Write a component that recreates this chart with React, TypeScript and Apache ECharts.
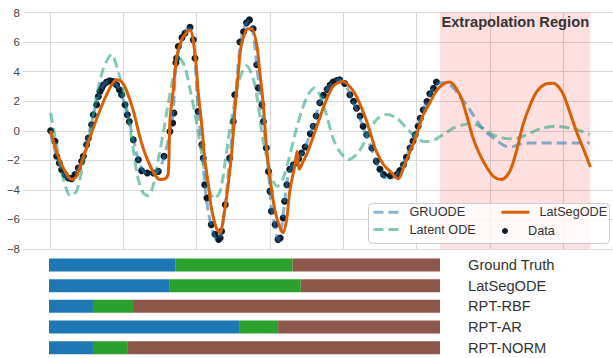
import React, { useEffect, useRef } from "react";
import * as echarts from "echarts";

const FONT = '"Liberation Sans", Arial, Helvetica, sans-serif';

// Observed data points (time, value)
const dataT = [
  0.009, 0.068, 0.091, 0.127, 0.159, 0.205, 0.25, 0.295, 0.341, 0.386, 0.432, 0.455, 0.5, 0.523, 0.568, 0.591,
  0.636, 0.659, 0.682, 0.705, 0.727, 0.773, 0.818, 0.864, 0.909, 0.946, 0.977, 1.023, 1.055, 1.082, 1.136, 1.205,
  1.25, 1.327, 1.409, 1.477, 1.555, 1.636, 1.673, 1.69,
  1.718, 1.727, 1.75, 1.8, 1.84, 1.91, 1.955, 1.977, 2.02, 2.07, 2.09, 2.11, 2.14, 2.2, 2.25, 2.3, 2.32, 2.34,
  2.39, 2.45, 2.5, 2.52, 2.59, 2.64, 2.68, 2.72, 2.77, 2.82, 2.84, 2.89, 2.91, 2.95, 2.98, 3.0, 3.02, 3.07, 3.11,
  3.14, 3.18, 3.2, 3.23, 3.27,
  3.32, 3.39, 3.43, 3.48, 3.55, 3.59, 3.63, 3.68, 3.73, 3.78, 3.82, 3.86, 3.91, 3.95, 4.02, 4.09, 4.14, 4.18,
  4.23, 4.27, 4.32, 4.39, 4.45, 4.5, 4.55, 4.64, 4.73, 4.77, 4.82, 4.86, 4.91, 4.95, 4.98, 5.02, 5.05, 5.09,
  5.14, 5.18, 5.23, 5.27,
];
const dataY = [
  0, -0.72, -1.73, -2.18, -2.64, -2.97, -3.2, -3.24, -2.97, -2.52, -2.07, -1.73, -0.95, -0.5, 0.4, 1.08,
  1.76, 2.32, 2.66, 2.88, 3.1, 3.29, 3.38, 3.33, 3.1, 2.77, 2.43, 1.76, 1.08, 0.63, -0.61, -1.96,
  -2.7, -2.86, -2.86, -2.75, -1.73, -0.05, 0.52, 1.2,
  4.6, 4.9, 5.7, 6.3, 6.6, 7.0, 6.15, 4.9, 1.3, -0.95, -1.85, -3.65, -4.55, -6.35, -7.0, -7.36, -7.25, -6.8,
  -5.0, -1.85, 0.63, 2.43, 6.0, 6.7, 7.3, 7.5, 6.9, 4.46, 2.9, 1.76, 0.63, -1.17, -2.75, -4.1, -5.45, -6.35, -7.36,
  -7.25, -5.9, -4.77, -3.65, -2.6,
  -2.3, -1.9, -1.5, -1.1, -0.2, 0.3, 1.0, 1.9, 2.4, 2.8, 3.1, 3.3, 3.4, 3.45, 3.2, 2.43, 2.0, 1.53,
  1.0, 0.3, -0.27, -1.17, -2.07, -2.6, -2.97, -3.05, -2.97, -2.7, -2.3, -1.8, -1.17, -0.7, -0.27, 0.3, 0.85, 1.4,
  1.98, 2.5, 2.88, 3.3,
];

// GRUODE prediction
const gruT = [
  0, 0.09, 0.18, 0.27, 0.36, 0.45, 0.55, 0.64, 0.73, 0.82, 0.91, 0.98, 1.05, 1.14, 1.22, 1.3, 1.4, 1.48, 1.56,
  1.64, 1.68, 1.72, 1.8, 1.88, 1.92, 1.97, 2.02, 2.07, 2.11, 2.16, 2.22, 2.28, 2.33, 2.39, 2.45, 2.5, 2.55, 2.6,
  2.66, 2.71, 2.76, 2.82, 2.88, 2.93, 2.98, 3.02, 3.07, 3.11, 3.15, 3.2, 3.25, 3.3, 3.4, 3.48, 3.55, 3.62, 3.68,
  3.78, 3.86, 3.95, 4.04, 4.12, 4.2, 4.28, 4.36, 4.45, 4.52, 4.58, 4.67, 4.75, 4.82, 4.9, 4.98, 5.06, 5.14, 5.23,
  5.32, 5.43, 5.52, 5.59, 5.68, 5.77, 5.86, 5.96, 6.05, 6.14, 6.23, 6.32, 6.41, 6.55, 7.36,
];
const gruY = [
  0, -1.7, -2.8, -3.25, -2.8, -1.8, 0.2, 2.0, 3.1, 3.4, 3.1, 2.4, 1.2, -0.6, -2.2, -2.85, -2.9, -2.7, -1.7,
  0, 1.2, 4.5, 6.2, 6.9, 6.9, 5.2, 1.3, -1.0, -3.6, -5.5, -6.8, -7.4, -7.0, -5.0, -1.9, 0.6, 3.5, 6.0,
  7.1, 7.4, 6.9, 4.4, 1.8, -0.3, -2.8, -5.3, -6.5, -7.4, -6.9, -4.8, -3.0, -2.4, -1.8, -1.1, -0.2, 0.9, 1.9,
  2.8, 3.3, 3.45, 3.0, 2.1, 1.2, 0.1, -0.9, -2.1, -2.9, -3.2, -3.2, -2.8, -2.2, -1.2, -0.2, 1.0, 2.0, 2.9,
  3.25, 3.2, 2.8, 2.3, 1.76, 1.08, 0.4, -0.15, -0.5, -0.83, -1.06, -1.06, -0.9, -0.83, -0.83,
];

// Latent ODE prediction
const latentT = [
  0.009, 0.09, 0.18, 0.28, 0.36, 0.45, 0.55, 0.64, 0.73, 0.84, 0.93, 1.0, 1.07, 1.14, 1.2, 1.27, 1.34, 1.41,
  1.48, 1.55, 1.61, 1.68, 1.77, 1.84, 1.91, 1.98, 2.05, 2.11, 2.18, 2.24, 2.32, 2.39, 2.45, 2.52, 2.59, 2.68,
  2.77, 2.84, 2.9, 2.97, 3.04, 3.1, 3.18, 3.25, 3.34, 3.43, 3.52, 3.61, 3.68, 3.77, 3.86, 3.95, 4.07, 4.18,
  4.27, 4.36, 4.45, 4.59, 4.73, 4.86, 4.98, 5.09, 5.18, 5.36, 5.5, 5.63, 5.75, 5.9, 6.04, 6.18, 6.31, 6.5,
  6.68, 6.89, 7.09, 7.23, 7.36,
];
const latentY = [
  1.2, -0.95, -3.2, -4.4, -4.1, -2.3, 0, 2.43, 4.23, 5.15, 4.0, 2.66, 0.86, -1.4, -3.2, -4.2, -4.4, -3.65,
  -1.85, 0, 1.76, 3.56, 4.9, 4.3, 2.8, 1.08, -0.95, -2.75, -4.1, -4.6, -4.1, -2.07, 0, 1.98, 3.56, 4.4,
  3.56, 1.76, -0.5, -2.07, -3.4, -3.76, -3.2, -2.07, -0.27, 1.3, 2.43, 2.9, 2.43, 1.08, -0.5, -1.4, -1.95, -1.6,
  -0.95, 0, 0.74, 1.1, 0.86, 0.18, -0.38, -0.72, -0.72, -0.27, 0.18, 0.4, 0.5, 0.18, -0.27, -0.5, -0.55, -0.27,
  0.13, 0.3, 0.18, 0, -0.27,
];

// LatSegODE prediction
const latsegT = [
  0.009, 0.09, 0.18, 0.3, 0.36, 0.45, 0.59, 0.73, 0.84, 0.91, 0.98, 1.05, 1.14, 1.23, 1.32, 1.43, 1.5, 1.57,
  1.613, 1.636, 1.677, 1.728, 1.796, 1.855, 1.91, 1.98, 2.02, 2.07, 2.11, 2.16, 2.2, 2.27, 2.32, 2.36, 2.43,
  2.48, 2.52, 2.57, 2.61, 2.7, 2.75, 2.82, 2.86, 2.91, 2.95, 3.0, 3.07, 3.14, 3.18, 3.23, 3.27, 3.34, 3.37,
  3.4, 3.45, 3.5, 3.59, 3.68, 3.77, 3.86, 3.99, 4.14, 4.25, 4.32, 4.39, 4.45, 4.55, 4.64, 4.75, 4.82, 4.91,
  5.0, 5.09, 5.18, 5.27, 5.36, 5.45, 5.59, 5.68, 5.77, 5.86, 5.96, 6.05, 6.16, 6.27, 6.36, 6.45, 6.55, 6.64,
  6.75, 6.86, 6.98, 7.07, 7.18, 7.27, 7.37,
];
const latsegY = [
  0, -1.4, -2.5, -3.3, -3.1, -1.85, 0.18, 1.98, 3.1, 3.45, 3.3, 2.65, 1.3, -0.5, -1.85, -2.97, -3.3, -3.25,
  -2.86, 0.74, 2.57, 5.0, 6.15, 6.6, 6.8, 5.1, 2.66, 0.4, -1.85, -3.65, -5.2, -6.6, -6.9, -6.1, -3.65,
  -1.4, 1.3, 4.0, 5.8, 6.9, 6.9, 5.8, 4.0, 1.75, -0.95, -3.2, -5.45, -6.6, -6.9, -5.9, -4.1, -2.3, -1.4,
  -2.6, -2.1, -1.6, -0.4, 0.9, 2.1, 3.0, 3.35, 2.66, 1.53, 0.63, -0.5, -1.4, -2.3, -2.75, -3.25, -2.5, -1.4,
  -0.27, 1.08, 1.9, 2.7, 3.15, 3.3, 2.43, 1.08, -0.5, -1.6, -2.5, -3.1, -3.3, -2.75, -1.4, 0.4, 1.76, 2.66,
  3.15, 3.22, 2.66, 1.53, -0.05, -1.17, -2.45,
];

const extrapStart = 5.32;
const extrapEnd = 7.37;

// Segmentation bars (fraction of the observed window)
const methods = ["Ground Truth", "LatSegODE", "RPT-RBF", "RPT-AR", "RPT-NORM"];
const seg1 = [0.324, 0.309, 0.1125, 0.488, 0.1125];
const seg2 = [0.299, 0.335, 0.1025, 0.098, 0.0875];
const seg3 = [0.377, 0.356, 0.785, 0.414, 0.8];

const zip = (t: number[], y: number[]) => t.map((v, i) => [v, y[i]]);

export default function App() {
  const ref = useRef<HTMLDivElement>(null);
  useEffect(() => {
    if (!ref.current) return;
    const chart = echarts.init(ref.current, null, { renderer: "svg" });
    const lineCommon = {
      type: "line",
      xAxisIndex: 0,
      yAxisIndex: 0,
      showSymbol: false,
      symbol: "none",
      smooth: 0.3,
      silent: true,
    };
    const legendText = { fontSize: 12.7, color: "#333", fontFamily: FONT, padding: [0, 0, 0, 5] };
    const hiddenSymbol = { color: "rgba(0,0,0,0)", borderColor: "rgba(0,0,0,0)", borderWidth: 0 };
    const option: any = {
      animation: false,
      backgroundColor: "#ffffff",
      textStyle: { fontFamily: FONT },
      grid: [
        { left: 23, top: 12.5, width: 590, height: 236.5 },
        { left: 49, top: 254.7, width: 391, height: 108 },
      ],
      xAxis: [
        {
          type: "value",
          gridIndex: 0,
          min: -0.368,
          max: 7.678,
          splitNumber: 8,
          minInterval: 1,
          maxInterval: 1,
          axisLine: { show: false },
          axisTick: { show: false },
          axisLabel: { show: false },
          splitLine: {
            show: true,
            showMinLine: false,
            showMaxLine: false,
            lineStyle: { color: "#d9d9d9", width: 1.2 },
          },
        },
        { type: "value", gridIndex: 1, min: 0, max: 1, show: false },
      ],
      yAxis: [
        {
          type: "value",
          gridIndex: 0,
          min: -8,
          max: 8,
          interval: 2,
          axisLine: { show: false },
          axisTick: { show: false },
          axisLabel: {
            margin: 3,
            fontSize: 11.5,
            color: "#444",
            fontFamily: FONT,
            formatter: (v: number) => (v < 0 ? "\u2212" + Math.abs(v) : String(v)),
          },
          splitLine: { lineStyle: { color: "#d9d9d9", width: 1.2 } },
        },
        {
          type: "category",
          gridIndex: 1,
          data: methods,
          inverse: true,
          position: "right",
          axisLine: { show: false },
          axisTick: { show: false },
          splitLine: { show: false },
          axisLabel: { margin: 28, align: "left", fontSize: 14.7, color: "#333", fontFamily: FONT },
        },
      ],
      legend: [
        {
          data: ["GRUODE", "Latent ODE"],
          orient: "vertical",
          left: 372,
          top: 205.7,
          padding: 0,
          itemWidth: 26,
          itemHeight: 14,
          itemGap: 4.3,
          selectedMode: false,
          itemStyle: hiddenSymbol,
          lineStyle: { width: 3, type: [10, 5] },
          textStyle: legendText,
        },
        {
          data: ["LatSegODE"],
          orient: "vertical",
          left: 500,
          top: 205.7,
          padding: 0,
          itemWidth: 28,
          itemHeight: 14,
          selectedMode: false,
          itemStyle: hiddenSymbol,
          lineStyle: { width: 3, type: "solid" },
          textStyle: legendText,
        },
        {
          data: ["Data"],
          orient: "vertical",
          left: 502,
          top: 224.5,
          padding: 0,
          itemWidth: 26,
          itemHeight: 6,
          selectedMode: false,
          itemStyle: { opacity: 1 },
          textStyle: legendText,
        },
      ],
      graphic: [
        {
          type: "rect",
          z: 3,
          silent: true,
          shape: { x: 368.5, y: 203.5, width: 241, height: 40, r: 4 },
          style: { fill: "rgba(255,255,255,0.8)", stroke: "#cccccc", lineWidth: 1 },
        },
      ],
      series: [
        {
          name: "extrapolation",
          type: "line",
          xAxisIndex: 0,
          yAxisIndex: 0,
          data: [],
          silent: true,
          markArea: {
            silent: true,
            itemStyle: { color: "rgba(255,0,0,0.12)" },
            label: {
              show: true,
              position: "insideTop",
              distance: 2,
              fontWeight: "bold",
              fontSize: 14.7,
              color: "#333",
              fontFamily: FONT,
            },
            data: [[{ name: "Extrapolation Region", xAxis: extrapStart }, { xAxis: extrapEnd }]],
          },
        },
        {
          ...lineCommon,
          name: "GRUODE",
          data: zip(gruT, gruY),
          itemStyle: { color: "rgba(31,119,180,0.55)" },
          lineStyle: { color: "rgba(31,119,180,0.55)", width: 3, type: [10, 5] },
        },
        {
          name: "Data",
          type: "scatter",
          xAxisIndex: 0,
          yAxisIndex: 0,
          symbol: "circle",
          symbolSize: 7,
          itemStyle: { color: "#0b1d2c", opacity: 1 },
          silent: true,
          data: zip(dataT, dataY),
        },
        {
          ...lineCommon,
          name: "Latent ODE",
          data: zip(latentT, latentY),
          itemStyle: { color: "rgba(27,158,119,0.55)" },
          lineStyle: { color: "rgba(27,158,119,0.55)", width: 3, type: [10, 5] },
        },
        {
          ...lineCommon,
          name: "LatSegODE",
          data: zip(latsegT, latsegY),
          itemStyle: { color: "#d95f02" },
          lineStyle: { color: "#d95f02", width: 3 },
        },
        {
          name: "seg1",
          type: "bar",
          xAxisIndex: 1,
          yAxisIndex: 1,
          stack: "seg",
          barWidth: 13,
          silent: true,
          itemStyle: { color: "#1f77b4" },
          data: seg1,
        },
        {
          name: "seg2",
          type: "bar",
          xAxisIndex: 1,
          yAxisIndex: 1,
          stack: "seg",
          barWidth: 13,
          silent: true,
          itemStyle: { color: "#2ca02c" },
          data: seg2,
        },
        {
          name: "seg3",
          type: "bar",
          xAxisIndex: 1,
          yAxisIndex: 1,
          stack: "seg",
          barWidth: 13,
          silent: true,
          itemStyle: { color: "#8c564b" },
          data: seg3,
        },
      ],
    };
    chart.setOption(option);
    return () => chart.dispose();
  }, []);
  return (
    <div
      ref={ref}
      style={{ position: "absolute", left: 0, top: 0, width: 613, height: 358 }}
    />
  );
}
